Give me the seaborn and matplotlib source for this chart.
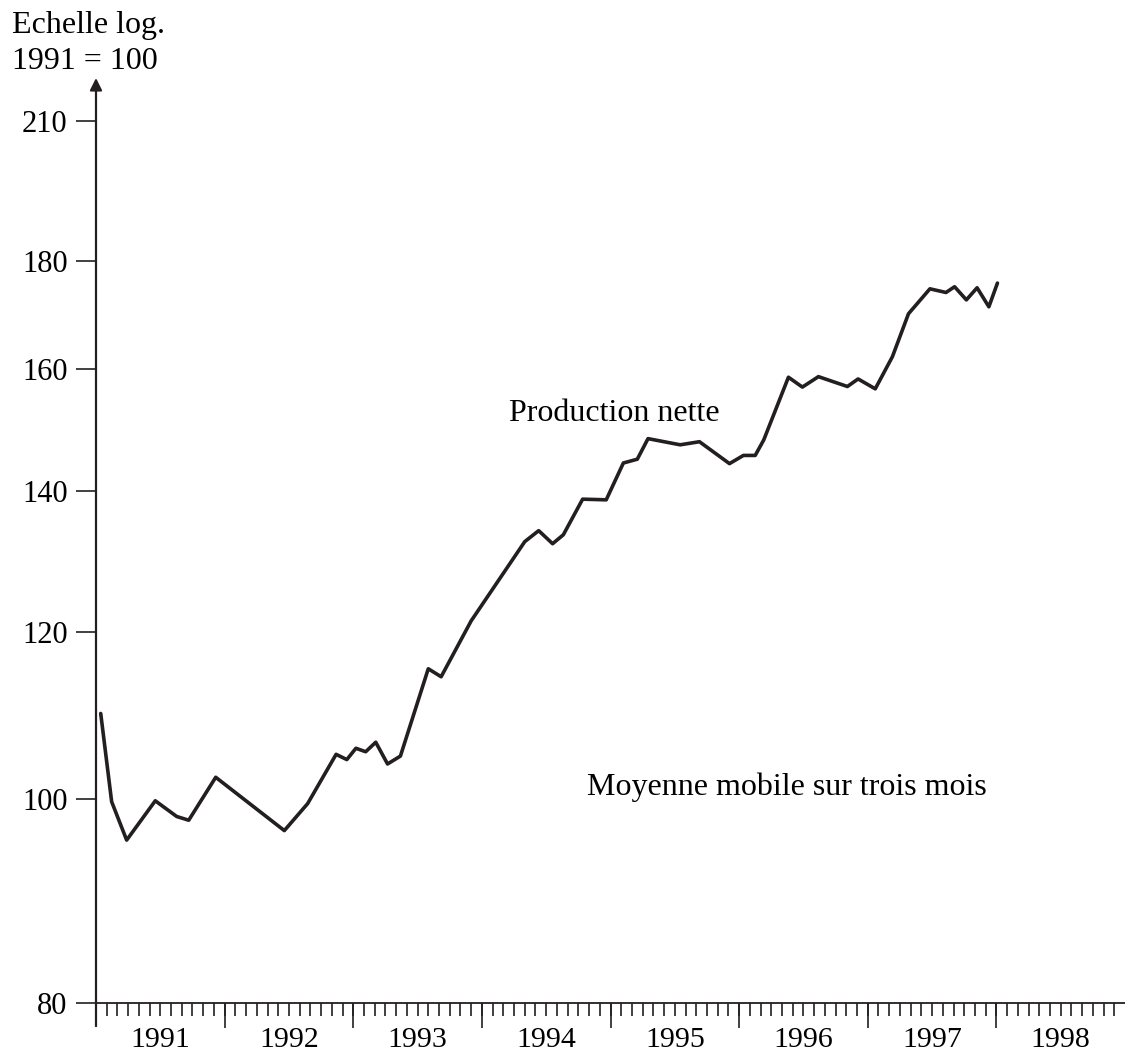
import pandas as pd
import matplotlib
matplotlib.use("Agg")
import matplotlib.pyplot as plt
from matplotlib.ticker import FixedLocator, NullLocator
import seaborn as sns

# Mois ecoules depuis janvier 1991
mois = [0.44, 1.46, 2.86, 5.53, 7.53, 8.65, 11.17, 17.57, 19.75, 22.4,
        23.4, 24.25, 25.16, 26.1, 27.2, 28.4, 31.0, 32.2, 35.0, 40.0,
        41.3, 42.6, 43.6, 45.4, 47.6, 49.2, 50.5, 51.5, 54.5, 56.3,
        59.1, 60.4, 61.5, 62.3, 64.6, 65.9, 67.4, 70.1, 71.1, 72.7,
        74.3, 75.8, 77.8, 79.3, 80.1, 81.2, 82.2, 83.3, 84.1]
# Production nette, 1991 = 100
indice = [109.8, 99.7, 95.6, 99.8, 98.1, 97.7, 102.4, 96.6, 99.5, 105.0,
          104.4, 105.7, 105.3, 106.4, 103.9, 104.8, 115.3, 114.3, 121.5, 132.5,
          134.1, 132.2, 133.5, 138.8, 138.7, 144.4, 145.0, 148.3, 147.3, 147.8,
          144.3, 145.6, 145.6, 148.1, 158.6, 156.9, 158.7, 157.0, 158.3, 156.6,
          162.2, 170.0, 174.7, 174.0, 175.1, 172.6, 174.9, 171.3, 175.8]
annees = list(range(1991, 1999))
graduations = [80, 100, 120, 140, 160, 180, 210]

sns.set_style("white")
plt.rcParams["font.family"] = ["Liberation Serif", "DejaVu Serif"]
plt.rcParams["text.color"] = "black"
taille_ticks = 21.5
taille_texte = 23

df = pd.DataFrame({"date": [1991 + m / 12 for m in mois], "indice": indice})

fig = plt.figure(figsize=(11.25, 10.57), dpi=100)
ax = fig.add_axes([96 / 1125, 54 / 1057, 1029 / 1125, 925 / 1057])
sns.lineplot(data=df, x="date", y="indice", ax=ax, color="#231f20",
             linewidth=2.6, estimator=None)

ax.set_yscale("log")
ax.set_ylim(80, 220)
ax.set_xlim(1991, 1999)
ax.set_xlabel("")
ax.set_ylabel("")

# axe vertical avec fleche
for s in ["left", "top", "right"]:
    ax.spines[s].set_visible(False)
ax.spines["bottom"].set_color("#231f20")
ax.spines["bottom"].set_linewidth(1.3)
ax.annotate("", xy=(0, 1.0), xytext=(0, -0.025), xycoords="axes fraction",
            arrowprops=dict(arrowstyle="-|>", color="#231f20", lw=1.6,
                            mutation_scale=18, shrinkA=0, shrinkB=0),
            annotation_clip=False)

# graduations verticales
ax.yaxis.set_major_locator(FixedLocator(graduations))
ax.set_yticklabels([str(g) for g in graduations])
ax.yaxis.set_minor_locator(NullLocator())
ax.tick_params(axis="y", which="major", direction="out", length=14.5,
               width=1.2, color="#231f20", pad=6, labelsize=22,
               labelcolor="black", left=True)

# graduations horizontales : annees au milieu, mois en petits traits
ax.xaxis.set_major_locator(FixedLocator([a + 0.5 for a in annees]))
ax.set_xticklabels([str(a) for a in annees])
ax.xaxis.set_minor_locator(FixedLocator([1991 + m / 12 for m in range(1, 96)]))
ax.tick_params(axis="x", which="both", direction="out", length=9.5,
               width=1.2, color="#231f20", bottom=True)
ax.tick_params(axis="x", which="major", pad=8, labelsize=taille_ticks,
               labelcolor="black")

sec = ax.secondary_xaxis("bottom")
sec.set_xticks(annees[1:])
sec.xaxis.set_minor_locator(NullLocator())
sec.tick_params(axis="x", direction="out", length=18, width=1.2,
                color="#231f20", labelbottom=False, bottom=True)
sec.spines["bottom"].set_visible(False)

ax.text(1994.21, 151.2, "Production nette", fontsize=taille_texte, va="baseline")
ax.text(1994.818, 100.4, "Moyenne mobile sur trois mois", fontsize=taille_texte,
        va="baseline")

fig.text(12 / 1125, 1 - 33 / 1057, "Echelle log.", fontsize=taille_texte, va="baseline")
fig.text(12 / 1125, 1 - 69 / 1057, "1991 = 100", fontsize=taille_texte, va="baseline")

fig.savefig("out.png", dpi=100)
